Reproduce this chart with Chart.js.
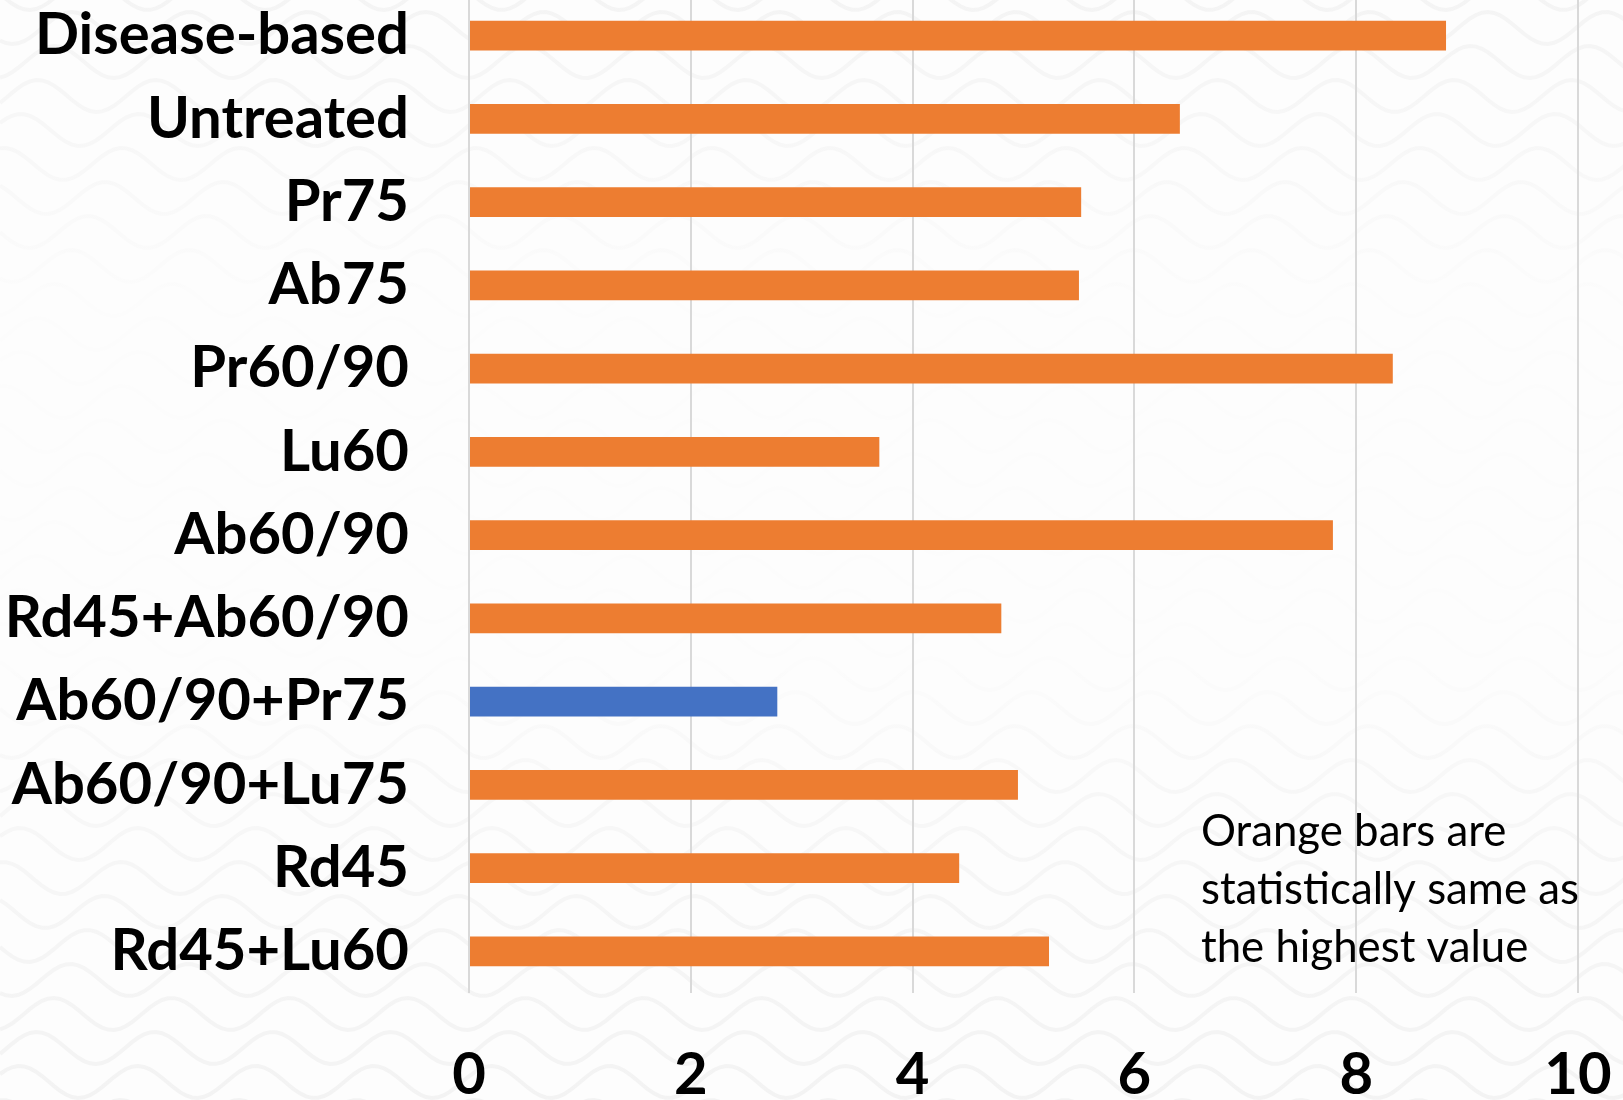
<!DOCTYPE html>
<html>
<head>
<meta charset="utf-8">
<title>Treatment comparison</title>
<script src="https://cdn.jsdelivr.net/npm/chart.js@4.4.1/dist/chart.umd.min.js"></script>
<style>
  html, body { margin: 0; padding: 0; background: #ffffff; overflow: hidden; }
  #wrap { position: absolute; left: 0; top: -6px; width: 1623px; height: 1106px; }
  canvas { display: block; }
</style>
</head>
<body>
<div id="wrap"><canvas id="chart" width="1623" height="1106"></canvas></div>
<script>
// Treatment groups, top to bottom
const categories = [
  'Disease-based', 'Untreated', 'Pr75', 'Ab75', 'Pr60/90', 'Lu60',
  'Ab60/90', 'Rd45+Ab60/90', 'Ab60/90+Pr75', 'Ab60/90+Lu75', 'Rd45', 'Rd45+Lu60'
];
// Measured value for each group
const values = [8.81, 6.41, 5.52, 5.50, 8.33, 3.70, 7.79, 4.80, 2.78, 4.95, 4.42, 5.23];
// The group that differs from the highest value
const lowestGroup = 'Ab60/90+Pr75';
// Axis range and ticks
const axisMin = 0;
const axisMax = 10;
const axisStep = 2;
// Note shown inside the plot
const noteLines = ['Orange bars are', 'statistically same as', 'the highest value'];

const ORANGE = '#ED7D31';
const BLUE = '#4472C4';
const FONT = 'Lato, "Open Sans", "DejaVu Sans", sans-serif';

// Faint wavy paper texture behind the chart
const wavePattern = {
  id: 'wavePattern',
  beforeDraw(chart) {
    const { ctx, width, height } = chart;
    ctx.save();
    ctx.fillStyle = '#fdfdfd';
    ctx.fillRect(0, 0, width, height);
    const g = ctx.createLinearGradient(0, 0, 0, height);
    g.addColorStop(0, 'rgba(0,0,0,0.035)');
    g.addColorStop(0.13, 'rgba(0,0,0,0.022)');
    g.addColorStop(0.28, 'rgba(0,0,0,0.004)');
    g.addColorStop(0.6, 'rgba(0,0,0,0.004)');
    g.addColorStop(0.72, 'rgba(0,0,0,0.025)');
    g.addColorStop(1, 'rgba(0,0,0,0.04)');
    ctx.strokeStyle = g;
    ctx.lineWidth = 4;
    for (let row = -3; row * 34 < height + 80; row++) {
      const y0 = row * 34;
      const phase = row * 0.9;
      ctx.beginPath();
      for (let x = 0; x <= width + 6; x += 6) {
        const y = y0 + 16 * Math.sin(2 * Math.PI * x / 118 + phase);
        if (x === 0) ctx.moveTo(x, y); else ctx.lineTo(x, y);
      }
      ctx.stroke();
    }
    ctx.restore();
  }
};

// Explanatory note, placed by data coordinates
const noteText = {
  id: 'noteText',
  afterDatasetsDraw(chart) {
    const { ctx, scales } = chart;
    const x = scales.x.getPixelForValue(6.6);
    const yTop = scales.y.getPixelForValue(9.73);
    const lineGap = 58;
    const size = 44;
    ctx.save();
    ctx.font = `400 ${size}px ${FONT}`;
    ctx.fillStyle = '#000000';
    ctx.textBaseline = 'alphabetic';
    ctx.textAlign = 'left';
    const widest = Math.max(...noteLines.map(t => ctx.measureText(t).width));
    const squeeze = Math.min(1, 378 / widest);
    noteLines.forEach((t, i) => {
      ctx.save();
      ctx.translate(x, yTop + i * lineGap);
      ctx.scale(squeeze, 1);
      ctx.fillText(t, 0, 0);
      ctx.restore();
    });
    ctx.restore();
  }
};

new Chart(document.getElementById('chart'), {
  type: 'bar',
  data: {
    labels: categories,
    datasets: [{
      data: values,
      backgroundColor: categories.map(c => c === lowestGroup ? BLUE : ORANGE),
      barPercentage: 0.36,
      categoryPercentage: 1.0,
      borderWidth: 0
    }]
  },
  options: {
    indexAxis: 'y',
    responsive: false,
    animation: false,
    layout: { padding: { left: 0, right: 45, top: 0, bottom: 0 } },
    plugins: {
      legend: { display: false },
      tooltip: { enabled: false }
    },
    scales: {
      x: {
        min: axisMin,
        max: axisMax,
        ticks: {
          stepSize: axisStep,
          color: '#000000',
          font: { family: FONT, size: 58, weight: 'bold' },
          padding: 47
        },
        grid: { color: '#d9d9d9', lineWidth: 2, drawTicks: false },
        border: { display: false },
        afterFit(scale) {
          scale.height = 107;
          scale.paddingLeft = 0;
          scale.paddingRight = 0;
        }
      },
      y: {
        ticks: {
          color: '#000000',
          font: { family: FONT, size: 58, weight: 'bold' },
          padding: 60
        },
        grid: { display: false, drawTicks: false },
        border: { display: false },
        afterFit(scale) {
          scale.width = 469;
          scale.paddingTop = 0;
          scale.paddingBottom = 0;
        }
      }
    }
  },
  plugins: [wavePattern, noteText]
});
</script>
</body>
</html>
